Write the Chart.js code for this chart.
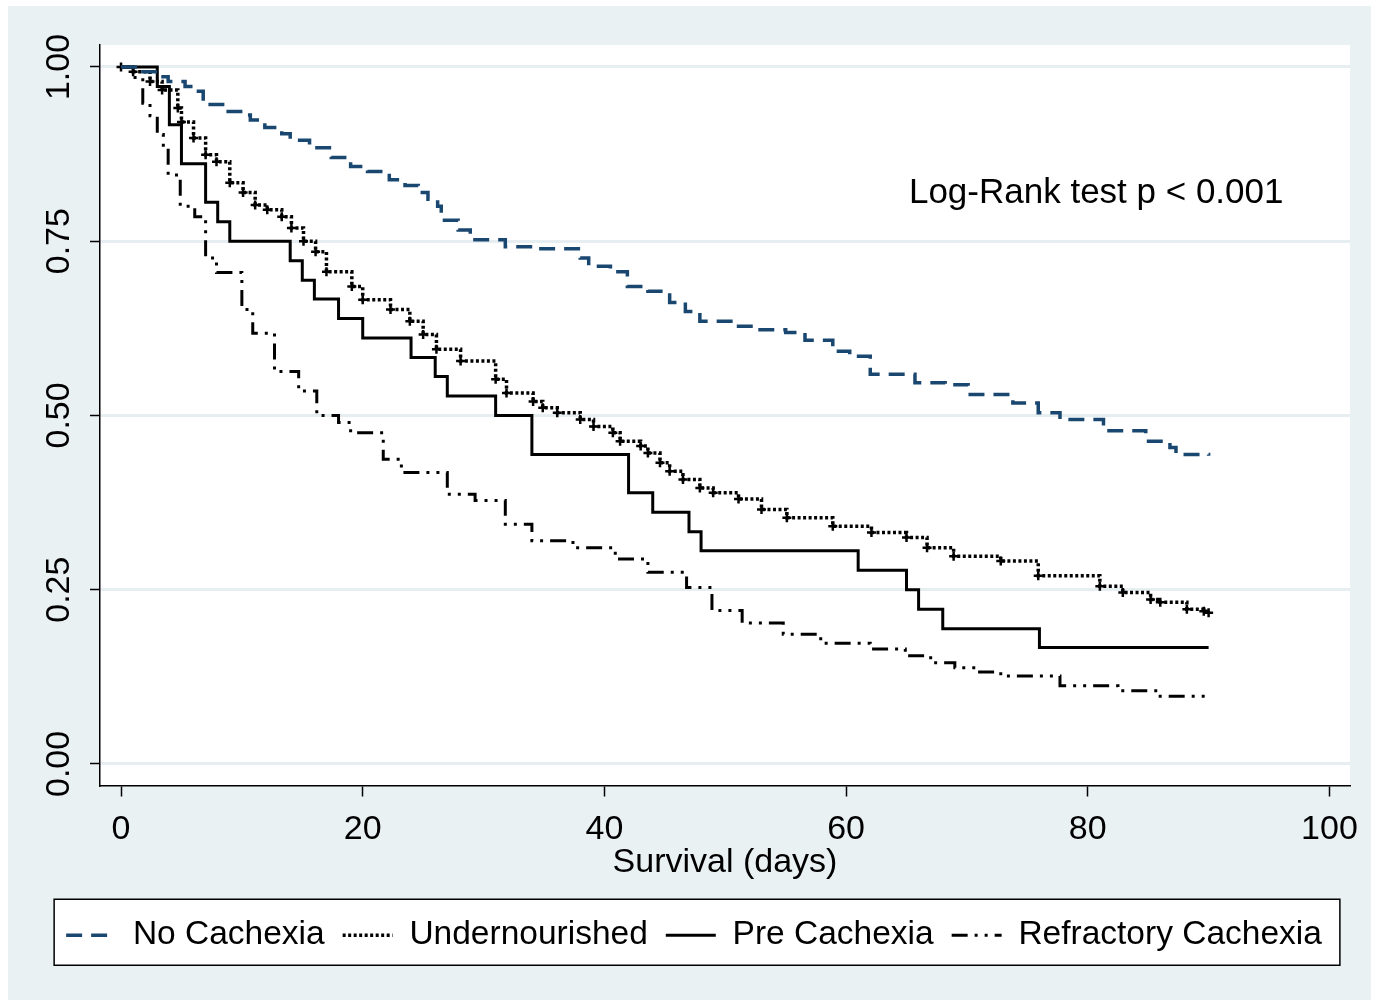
<!DOCTYPE html>
<html>
<head>
<meta charset="utf-8">
<script src="https://cdn.jsdelivr.net/npm/chart.js@4.4.1/dist/chart.umd.min.js"></script>
<style>
html,body{margin:0;padding:0;background:#fff;}
canvas{display:block;}
</style>
</head>
<body>
<canvas id="c" width="1379" height="1006"></canvas>
<script>
// ---------- data ----------
const seriesNames = ['No Cachexia', 'Undernourished', 'Pre Cachexia', 'Refractory Cachexia'];

const noCachexiaTime = [0, 1.6, 3.2, 3.9, 5.3, 6.1, 6.8, 8.6, 9.9, 10.7, 11.9, 13.3, 14.0, 15.6, 17.4, 19.0, 20.4, 22.2, 23.5, 24.6, 25.4, 26.2, 26.5, 27.9, 28.9, 31.8, 34.3, 38.0, 38.7, 40.5, 41.9, 43.6, 45.4, 46.7, 47.9, 50.8, 52.5, 55.0, 56.6, 58.9, 60.3, 62.0, 65.7, 68.2, 70.1, 73.8, 75.9, 77.7, 81.3, 84.8, 86.8, 87.3, 90.0];
const noCachexiaSurv = [1.0, 0.993, 0.986, 0.979, 0.972, 0.965, 0.946, 0.936, 0.931, 0.924, 0.913, 0.904, 0.895, 0.884, 0.870, 0.857, 0.850, 0.838, 0.830, 0.820, 0.810, 0.800, 0.780, 0.766, 0.752, 0.742, 0.739, 0.726, 0.714, 0.706, 0.685, 0.678, 0.662, 0.649, 0.635, 0.628, 0.623, 0.619, 0.608, 0.592, 0.585, 0.559, 0.547, 0.544, 0.530, 0.518, 0.504, 0.494, 0.478, 0.463, 0.454, 0.444, 0.442];

const undernourishedTime = [0, 1.0, 2.4, 3.4, 4.7, 5.0, 6.0, 7.0, 7.9, 9.0, 10.1, 11.1, 12.1, 13.3, 14.1, 15.1, 16.1, 17.0, 19.1, 20.0, 22.3, 23.9, 25.0, 26.1, 28.1, 31.0, 31.9, 34.1, 34.9, 36.1, 38.0, 39.1, 40.7, 41.3, 43.0, 43.6, 44.6, 45.4, 46.5, 47.9, 49.0, 51.1, 53.0, 55.1, 58.9, 62.1, 65.0, 66.7, 68.9, 72.8, 75.9, 81.0, 82.9, 85.2, 86.0, 88.2, 89.6, 90.0];
const undernourishedSurv = [1.0, 0.993, 0.979, 0.967, 0.941, 0.921, 0.898, 0.874, 0.864, 0.834, 0.820, 0.802, 0.795, 0.785, 0.769, 0.750, 0.735, 0.706, 0.685, 0.666, 0.652, 0.635, 0.616, 0.595, 0.578, 0.552, 0.532, 0.520, 0.511, 0.504, 0.494, 0.484, 0.475, 0.463, 0.456, 0.446, 0.432, 0.420, 0.408, 0.396, 0.389, 0.380, 0.365, 0.353, 0.341, 0.332, 0.325, 0.310, 0.298, 0.291, 0.270, 0.255, 0.246, 0.236, 0.232, 0.222, 0.219, 0.217];

const preCachexiaTime = [0, 3, 4, 5, 7, 8, 9, 14, 15, 16, 18, 20, 24, 26, 27, 31, 34, 42, 44, 47, 48, 61, 65, 66, 68, 76, 90];
const preCachexiaSurv = [1.0, 0.972, 0.917, 0.861, 0.806, 0.778, 0.750, 0.722, 0.694, 0.667, 0.639, 0.611, 0.583, 0.556, 0.528, 0.500, 0.444, 0.389, 0.361, 0.333, 0.306, 0.278, 0.250, 0.222, 0.194, 0.167, 0.167];

const refractoryTime = [0, 1.0, 1.8, 2.4, 3.0, 3.5, 3.9, 4.9, 6.1, 7.0, 7.9, 10.0, 10.9, 12.7, 14.7, 16.2, 18.0, 19.0, 21.7, 23.2, 27.0, 29.3, 31.8, 34.0, 37.4, 40.9, 43.6, 46.8, 48.9, 51.4, 54.8, 57.9, 62.0, 64.9, 67.0, 69.0, 70.7, 72.8, 77.7, 82.5, 85.8, 90.0];
const refractorySurv = [1.0, 0.985, 0.948, 0.930, 0.903, 0.885, 0.845, 0.800, 0.785, 0.726, 0.705, 0.652, 0.618, 0.563, 0.535, 0.500, 0.490, 0.475, 0.437, 0.418, 0.387, 0.378, 0.344, 0.320, 0.310, 0.294, 0.275, 0.253, 0.220, 0.202, 0.186, 0.173, 0.165, 0.155, 0.145, 0.138, 0.132, 0.126, 0.112, 0.105, 0.097, 0.097];

const xTickValues = [0, 20, 40, 60, 80, 100];
const yTickValues = [0, 0.25, 0.5, 0.75, 1.0];
const xAxisTitle = 'Survival (days)';
const annotationText = 'Log-Rank test p < 0.001';
const annotationX = 65.2;
const annotationY = 0.818;

// ---------- styling ----------
const FONT = "'Liberation Sans', Arial, sans-serif";
const FS = 34;
Chart.defaults.font.family = FONT;
Chart.defaults.color = '#000';

const toPoints = (t, s) => t.map((v, i) => ({x: v, y: s[i]}));

const bgPlugin = {
  id: 'bg',
  beforeDraw(chart) {
    const {ctx, chartArea: a, width, height} = chart;
    ctx.save();
    ctx.fillStyle = '#ffffff';
    ctx.fillRect(0, 0, width, height);
    ctx.fillStyle = '#eaf1f3';
    ctx.fillRect(8, 6, width - 16, height - 12);
    ctx.fillStyle = '#ffffff';
    ctx.fillRect(a.left, a.top, a.right - a.left, a.bottom - a.top);
    const hb = chart.legend && chart.legend.legendHitBoxes;
    if (hb && hb.length) {
      const left = Math.min(...hb.map(h => h.left)) - 12;
      const right = Math.max(...hb.map(h => h.left + h.width)) + 18;
      const cy = hb[0].top + hb[0].height / 2;
      ctx.fillStyle = '#ffffff';
      ctx.fillRect(left, cy - 36, right - left, 66);
      ctx.strokeStyle = '#000';
      ctx.lineWidth = 1.5;
      ctx.strokeRect(left, cy - 36, right - left, 66);
    }
    ctx.restore();
  }
};

const annotPlugin = {
  id: 'annot',
  afterDatasetsDraw(chart) {
    const {ctx, scales: {x, y}} = chart;
    ctx.save();
    ctx.font = '35px ' + FONT;
    ctx.fillStyle = '#000';
    ctx.textAlign = 'left';
    ctx.textBaseline = 'middle';
    ctx.fillText(annotationText, x.getPixelForValue(annotationX), y.getPixelForValue(annotationY));
    ctx.restore();
  }
};

const common = {stepped: 'before', fill: false, tension: 0, pointRadius: 0, pointHoverRadius: 0};

new Chart(document.getElementById('c'), {
  type: 'line',
  data: {
    datasets: [
      Object.assign({}, common, {
        label: seriesNames[0], data: toPoints(noCachexiaTime, noCachexiaSurv),
        borderColor: '#1a476f', borderWidth: 3.5, borderDash: [16, 9]
      }),
      Object.assign({}, common, {
        label: seriesNames[1], data: toPoints(undernourishedTime, undernourishedSurv),
        borderColor: '#000', borderWidth: 3.5, borderDash: [3, 2.5],
        pointRadius: 4.5, pointStyle: 'cross', pointBorderWidth: 2.5, pointBorderColor: '#000', pointBackgroundColor: '#000'
      }),
      Object.assign({}, common, {
        label: seriesNames[2], data: toPoints(preCachexiaTime, preCachexiaSurv),
        borderColor: '#000', borderWidth: 3
      }),
      Object.assign({}, common, {
        label: seriesNames[3], data: toPoints(refractoryTime, refractorySurv),
        borderColor: '#000', borderWidth: 3, borderDash: [16, 7, 3, 7, 3, 7]
      })
    ]
  },
  options: {
    responsive: false,
    animation: false,
    devicePixelRatio: 1,
    events: [],
    layout: {padding: {top: 45, right: 29, left: 38, bottom: 44}},
    plugins: {
      tooltip: {enabled: false},
      legend: {
        position: 'bottom',
        labels: {
          usePointStyle: true,
          pointStyle: 'line',
          pointStyleWidth: 50,
          padding: 18,
          color: '#000',
          font: {size: 33.5, family: FONT},
          generateLabels(chart) {
            const items = Chart.defaults.plugins.legend.labels.generateLabels(chart);
            items.forEach(it => {
              const ds = chart.data.datasets[it.datasetIndex];
              it.pointStyle = 'line';
              it.lineDash = ds.borderDash || [];
              it.lineWidth = ds.borderWidth;
              it.strokeStyle = ds.borderColor;
              it.fillStyle = ds.borderColor;
            });
            return items;
          }
        }
      }
    },
    scales: {
      x: {
        type: 'linear',
        min: -1.74, max: 101.7,
        afterBuildTicks: s => { s.ticks = xTickValues.map(v => ({value: v})); },
        afterFit: s => { s.height = 115; },
        grid: {drawOnChartArea: false, tickLength: 11, tickColor: '#000', tickWidth: 1.5},
        border: {color: '#000', width: 1.5},
        ticks: {font: {size: FS}, color: '#000', padding: 13, maxRotation: 0, autoSkip: false, callback: v => String(v)},
        title: {display: true, text: xAxisTitle, color: '#000', font: {size: FS}, padding: {top: 0, bottom: 17}}
      },
      y: {
        type: 'linear',
        min: -0.031, max: 1.0315,
        afterBuildTicks: s => { s.ticks = yTickValues.map(v => ({value: v})); },
        afterFit: s => { s.width = 62; },
        grid: {color: '#e6eef1', lineWidth: 3, tickLength: 10, tickColor: '#000', tickWidth: 1.5},
        border: {color: '#000', width: 1.5},
        ticks: {font: {size: FS}, color: '#000', padding: -3, minRotation: 90, maxRotation: 90, crossAlign: 'center', autoSkip: false, callback: v => Number(v).toFixed(2)}
      }
    }
  },
  plugins: [bgPlugin, annotPlugin]
});
</script>
</body>
</html>
